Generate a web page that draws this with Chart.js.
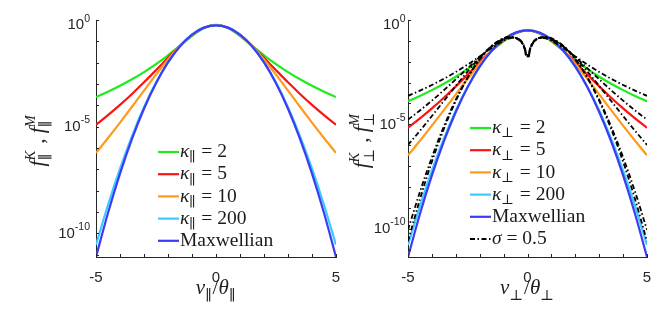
<!DOCTYPE html>
<html lang="en">
<head>
<meta charset="UTF-8">
<title>Kappa vs Maxwellian distributions</title>
<script src="https://cdn.jsdelivr.net/npm/chart.js"></script>
<style>
  html, body { margin: 0; padding: 0; background: #fff; }
  #wrap { position: relative; width: 672px; height: 316px; overflow: hidden; }
  #wrap canvas { position: absolute; top: 0; }
  #left { left: 0; }
  #right { left: 336px; }
</style>
</head>
<body>
<div id="wrap">
  <canvas id="left" width="356" height="316"></canvas>
  <canvas id="right" width="336" height="316"></canvas>
</div>
<script>
// ---- data (curves are even in v, only v >= 0 is listed) ----
const vHalf = [0, 0.5, 1, 1.5, 2, 2.5, 3, 3.5, 4, 4.5, 5];

// parallel (1D) kappa and Maxwellian
const fParK2   = [0.6002, 0.4215, 0.1778, 0.06255, 0.02223, 8.551e-3, 3.608e-3, 1.660e-3, 8.233e-4, 4.359e-4, 2.439e-4];
const fParK5   = [0.5785, 0.4317, 0.1937, 0.06225, 0.01701, 4.459e-3, 1.200e-3, 3.431e-4, 1.054e-4, 3.488e-5, 1.240e-5];
const fParK10  = [0.5713, 0.4354, 0.2002, 0.06130, 0.01411, 2.738e-3, 4.904e-4, 8.625e-5, 1.557e-5, 2.944e-6, 5.920e-7];
const fParK200 = [0.5646, 0.4392, 0.2072, 0.05958, 0.01054, 1.163e-3, 8.116e-5, 3.654e-6, 1.081e-7, 2.151e-9, 2.952e-11];
const fParMax  = [0.5642, 0.4394, 0.2076, 0.05947, 0.01033, 1.089e-3, 6.963e-5, 2.700e-6, 6.349e-8, 9.057e-10, 7.835e-12];

// perpendicular (2D) kappa and Maxwellian
const fPerpK2   = [0.3183, 0.2236, 0.09432, 0.03317, 0.01179, 4.535e-3, 1.913e-3, 8.801e-4, 4.366e-4, 2.312e-4, 1.294e-4];
const fPerpK5   = [0.3183, 0.2375, 0.1066, 0.03425, 9.359e-3, 2.453e-3, 6.606e-4, 1.888e-4, 5.799e-5, 1.919e-5, 6.822e-6];
const fPerpK10  = [0.3183, 0.2426, 0.1116, 0.03415, 7.860e-3, 1.526e-3, 2.733e-4, 4.806e-5, 8.673e-6, 1.640e-6, 3.298e-7];
const fPerpK200 = [0.3183, 0.2476, 0.1168, 0.03359, 5.945e-3, 6.556e-4, 4.576e-5, 2.060e-6, 6.093e-8, 1.212e-9, 1.664e-11];
const fPerpMax  = [0.3183, 0.2479, 0.1171, 0.03355, 5.830e-3, 6.145e-4, 3.928e-5, 1.523e-6, 3.582e-8, 5.110e-10, 4.421e-12];

// loss-cone curves, sigma = 0.5 (they dip at v = 0)
const vRing = [0.05, 0.1, 0.2, 0.3, 0.5, 0.75, 1, 1.5, 2, 2.5, 3, 3.5, 4, 4.5, 5];
const fLcK2   = [0.02101, 0.04147, 0.07875, 0.1085, 0.1397, 0.1330, 0.1021, 0.04525, 0.01805, 7.401e-3, 3.245e-3, 1.530e-3, 7.718e-4, 4.135e-4, 2.334e-4];
const fLcK5   = [0.01921, 0.03804, 0.07319, 0.1030, 0.1403, 0.1446, 0.1178, 0.05164, 0.01689, 4.951e-3, 1.434e-3, 4.307e-4, 1.370e-4, 4.653e-5, 1.686e-5];
const fLcK10  = [0.01852, 0.03672, 0.07096, 0.1005, 0.1398, 0.1485, 0.1242, 0.05400, 0.01550, 3.492e-3, 6.940e-4, 1.317e-4, 2.511e-5, 4.952e-6, 1.028e-6];
const fLcK200 = [0.01795, 0.03562, 0.06913, 0.09860, 0.1399, 0.1533, 0.1317, 0.05666, 0.01331, 1.825e-3, 1.518e-4, 7.914e-6, 2.650e-7, 5.877e-9, 8.869e-11];
const fLcMax  = [0.01791, 0.03556, 0.06902, 0.09848, 0.1399, 0.1535, 0.1321, 0.05678, 0.01316, 1.733e-3, 1.330e-4, 6.015e-6, 1.617e-7, 2.595e-9, 2.494e-11];

// labels
const parLabels  = ['κ_∥ = 2', 'κ_∥ = 5', 'κ_∥ = 10', 'κ_∥ = 200', 'Maxwellian'];
const perpLabels = ['κ_⊥ = 2', 'κ_⊥ = 5', 'κ_⊥ = 10', 'κ_⊥ = 200', 'Maxwellian'];
const ringLabel  = 'σ = 0.5';
const colors = ['#1eea1e', '#fa1414', '#ff9a1a', '#3ccaff', '#3c3cf6'];

const xTickValues = [-5, -4, -3, -2, -1, 0, 1, 2, 3, 4, 5];
const xTickLabels = ['-5', '', '', '', '', '0', '', '', '', '', '5'];
const yTickValues = [1, 1e-1, 1e-2, 1e-3, 1e-4, 1e-5, 1e-6, 1e-7, 1e-8, 1e-9, 1e-10, 1e-11];
const yTickLabels = ['10^0', '', '', '', '', '10^{-5}', '', '', '', '', '10^{-10}', ''];

const AXIS = '#262626';
const SERIF = '"Liberation Serif", "DejaVu Serif", serif';
const SANS = '"Liberation Sans", Arial, sans-serif';

// mirror a half curve onto negative v
function mirror(v, f) {
  const pts = [];
  for (let i = v.length - 1; i >= 0; i--) {
    if (v[i] !== 0) pts.push({ x: -v[i], y: f[i] });
  }
  for (let i = 0; i < v.length; i++) pts.push({ x: v[i], y: f[i] });
  return pts;
}

function line(label, pts, color, order, dash, width) {
  return {
    label: label, data: pts, borderColor: color, borderWidth: width || 2.2,
    borderDash: dash || [], pointRadius: 0, fill: false,
    cubicInterpolationMode: 'monotone', order: order
  };
}

// ---- rich text (sub/superscripts) ----
function parseRich(str) {
  const segs = [];
  let i = 0;
  while (i < str.length) {
    const c = str[i];
    if (c === '_' || c === '^') {
      let t;
      if (str[i + 1] === '{') { const j = str.indexOf('}', i + 2); t = str.slice(i + 2, j); i = j + 1; }
      else { t = str[i + 1]; i += 2; }
      segs.push({ t: t, kind: c === '_' ? 'sub' : 'sup' });
    } else {
      let j = i;
      while (j < str.length && str[j] !== '_' && str[j] !== '^') j++;
      segs.push({ t: str.slice(i, j), kind: 'base' });
      i = j;
    }
  }
  return segs;
}

// single latin letters and greek letters are italic, words are upright
function runsOf(text, math) {
  const runs = [];
  const re = /([A-Za-z]+)|([\u0370-\u03ff])|([^A-Za-z\u0370-\u03ff]+)/g;
  let m;
  while ((m = re.exec(text))) {
    const italic = math && ((m[1] && m[1].length === 1) || !!m[2]);
    runs.push({ t: m[0], it: italic });
  }
  return runs;
}

function drawRich(ctx, str, x, y, size, align, family, baseline) {
  const fam = family || SERIF;
  const math = fam === SERIF;
  const segs = parseRich(str);
  const items = [];
  let pen = 0, prev = null;
  segs.forEach(function (s) {
    const sz = s.kind === 'base' ? size : size * 0.7;
    const dy = s.kind === 'sub' ? size * 0.3 : (s.kind === 'sup' ? -size * 0.42 : 0);
    let start = pen;
    if (prev && prev.kind !== 'base' && s.kind !== 'base' && prev.kind !== s.kind) start = prev.start;
    let w = 0;
    runsOf(s.t, math).forEach(function (r) {
      ctx.font = (r.it ? 'italic ' : '') + sz + 'px ' + fam;
      const rw = ctx.measureText(r.t).width;
      items.push({ t: r.t, font: ctx.font, x: start + w, dy: dy });
      w += rw;
    });
    const end = start + w;
    pen = prev && start === prev.start ? Math.max(pen, end) : end;
    if (s.kind !== 'base' && math) pen += size * 0.04;
    prev = { kind: s.kind, start: start };
  });
  let x0 = x;
  if (align === 'center') x0 = x - pen / 2;
  else if (align === 'right') x0 = x - pen;
  ctx.textBaseline = baseline || 'middle';
  ctx.textAlign = 'left';
  items.forEach(function (it) {
    ctx.font = it.font;
    ctx.fillText(it.t, x0 + it.x, y + it.dy);
  });
}

// per-panel decoration: inward ticks, log tick labels, axis titles, legend
const panelCfg = {
  left:  { yTitle: 'f^K_∥ , f^M_∥', xTitle: 'v_∥/θ_∥', yTitleDx: -52, yLabelDx: -6, legendDy: 132 },
  right: { yTitle: 'f^K_⊥ , f^M_⊥', xTitle: 'v_⊥/θ_⊥', yTitleDx: -40, yLabelDx: -2.5, legendDy: 108 }
};

const decor = {
  id: 'decor',
  afterDraw: function (chart) {
    const cfg = panelCfg[chart.canvas.id];
    const ctx = chart.ctx, ca = chart.chartArea;
    const xs = chart.scales.x, ys = chart.scales.y;
    ctx.save();
    ctx.strokeStyle = AXIS;
    ctx.lineWidth = 1;
    ctx.beginPath();
    xs.ticks.forEach(function (t) {
      const px = Math.round(xs.getPixelForValue(t.value)) + 0.5;
      ctx.moveTo(px, ca.bottom); ctx.lineTo(px, ca.bottom - 3);
    });
    ys.ticks.forEach(function (t) {
      const py = Math.round(ys.getPixelForValue(t.value)) + 0.5;
      ctx.moveTo(ca.left, py); ctx.lineTo(ca.left + 3, py);
    });
    ctx.stroke();

    // y tick labels with real superscripts, kept clear of the top edge
    ctx.fillStyle = AXIS;
    ys.ticks.forEach(function (t) {
      let lab = '';
      for (let i = 0; i < yTickValues.length; i++) {
        if (Math.abs(Math.log10(t.value) - Math.log10(yTickValues[i])) < 1e-6) lab = yTickLabels[i];
      }
      const py = Math.max(ys.getPixelForValue(t.value), ca.top + 5);
      if (lab) drawRich(ctx, lab, ca.left + cfg.yLabelDx, py, 15, 'right', SANS);
    });

    ctx.fillStyle = '#222';
    drawRich(ctx, cfg.xTitle, (ca.left + ca.right) / 2, 294, 21, 'center', SERIF, 'alphabetic');
    ctx.save();
    ctx.translate(ca.left + cfg.yTitleDx, 140);
    ctx.rotate(-Math.PI / 2);
    drawRich(ctx, cfg.yTitle, 0, 0, 21, 'center', SERIF, 'alphabetic');
    ctx.restore();

    // legend
    let y = ca.top + cfg.legendDy;
    const lx = ca.left + 62;
    chart.data.datasets.forEach(function (ds) {
      if (!ds.label) return;
      ctx.strokeStyle = ds.borderColor;
      ctx.lineWidth = ds.borderWidth;
      ctx.setLineDash(ds.borderDash);
      ctx.beginPath();
      ctx.moveTo(lx, y); ctx.lineTo(lx + 21, y);
      ctx.stroke();
      ctx.setLineDash([]);
      ctx.fillStyle = '#1a1a1a';
      drawRich(ctx, ds.label, lx + 22, y, 19.5, 'left');
      y += 22.2;
    });
    ctx.restore();
  }
};

function makePanel(id, datasets, yAxisWidth, padRight) {
  let yMin = Infinity;
  datasets.forEach(function (ds) { ds.data.forEach(function (p) { if (p.y < yMin) yMin = p.y; }); });
  return new Chart(document.getElementById(id), {
    type: 'line',
    data: { datasets: datasets },
    options: {
      responsive: false,
      animation: false,
      layout: { padding: { left: 0, right: padRight, top: 20, bottom: 0 } },
      plugins: { legend: { display: false }, tooltip: { enabled: false } },
      scales: {
        x: {
          type: 'linear', min: -5, max: 5,
          afterBuildTicks: function (s) { s.ticks = xTickValues.map(function (v) { return { value: v }; }); },
          afterFit: function (s) { s.height = 59; },
          ticks: {
            autoSkip: false, maxRotation: 0, padding: 12, color: AXIS,
            font: { family: SANS, size: 15 },
            callback: function (v) { const i = xTickValues.indexOf(v); return i < 0 ? '' : xTickLabels[i]; }
          },
          grid: { display: false, drawTicks: false },
          border: { display: true, color: AXIS, width: 1 }
        },
        y: {
          type: 'logarithmic', min: yMin, max: 1,
          afterBuildTicks: function (s) { s.ticks = yTickValues.map(function (v) { return { value: v }; }); },
          afterFit: function (s) { s.width = yAxisWidth; },
          ticks: { display: false },
          grid: { display: false, drawTicks: false },
          border: { display: true, color: AXIS, width: 1 }
        }
      }
    },
    plugins: [decor]
  });
}

const dash = [5, 2.5, 1.5, 2.5];

makePanel('left', [
  line(parLabels[0], mirror(vHalf, fParK2),   colors[0], 6),
  line(parLabels[1], mirror(vHalf, fParK5),   colors[1], 5),
  line(parLabels[2], mirror(vHalf, fParK10),  colors[2], 4),
  line(parLabels[3], mirror(vHalf, fParK200), colors[3], 3),
  line(parLabels[4], mirror(vHalf, fParMax),  colors[4], 2)
], 96, 20);

makePanel('right', [
  line(perpLabels[0], mirror(vHalf, fPerpK2),   colors[0], 6),
  line(perpLabels[1], mirror(vHalf, fPerpK5),   colors[1], 5),
  line(perpLabels[2], mirror(vHalf, fPerpK10),  colors[2], 4),
  line(perpLabels[3], mirror(vHalf, fPerpK200), colors[3], 3),
  line(perpLabels[4], mirror(vHalf, fPerpMax),  colors[4], 2),
  line(ringLabel, mirror(vRing, fLcK2),   '#000', 1, dash, 1.8),
  line('',        mirror(vRing, fLcK5),   '#000', 1, dash, 1.8),
  line('',        mirror(vRing, fLcK10),  '#000', 1, dash, 1.8),
  line('',        mirror(vRing, fLcK200), '#000', 1, dash, 1.8),
  line('',        mirror(vRing, fLcMax),  '#000', 1, dash, 1.8)
], 72, 25);
</script>
</body>
</html>
